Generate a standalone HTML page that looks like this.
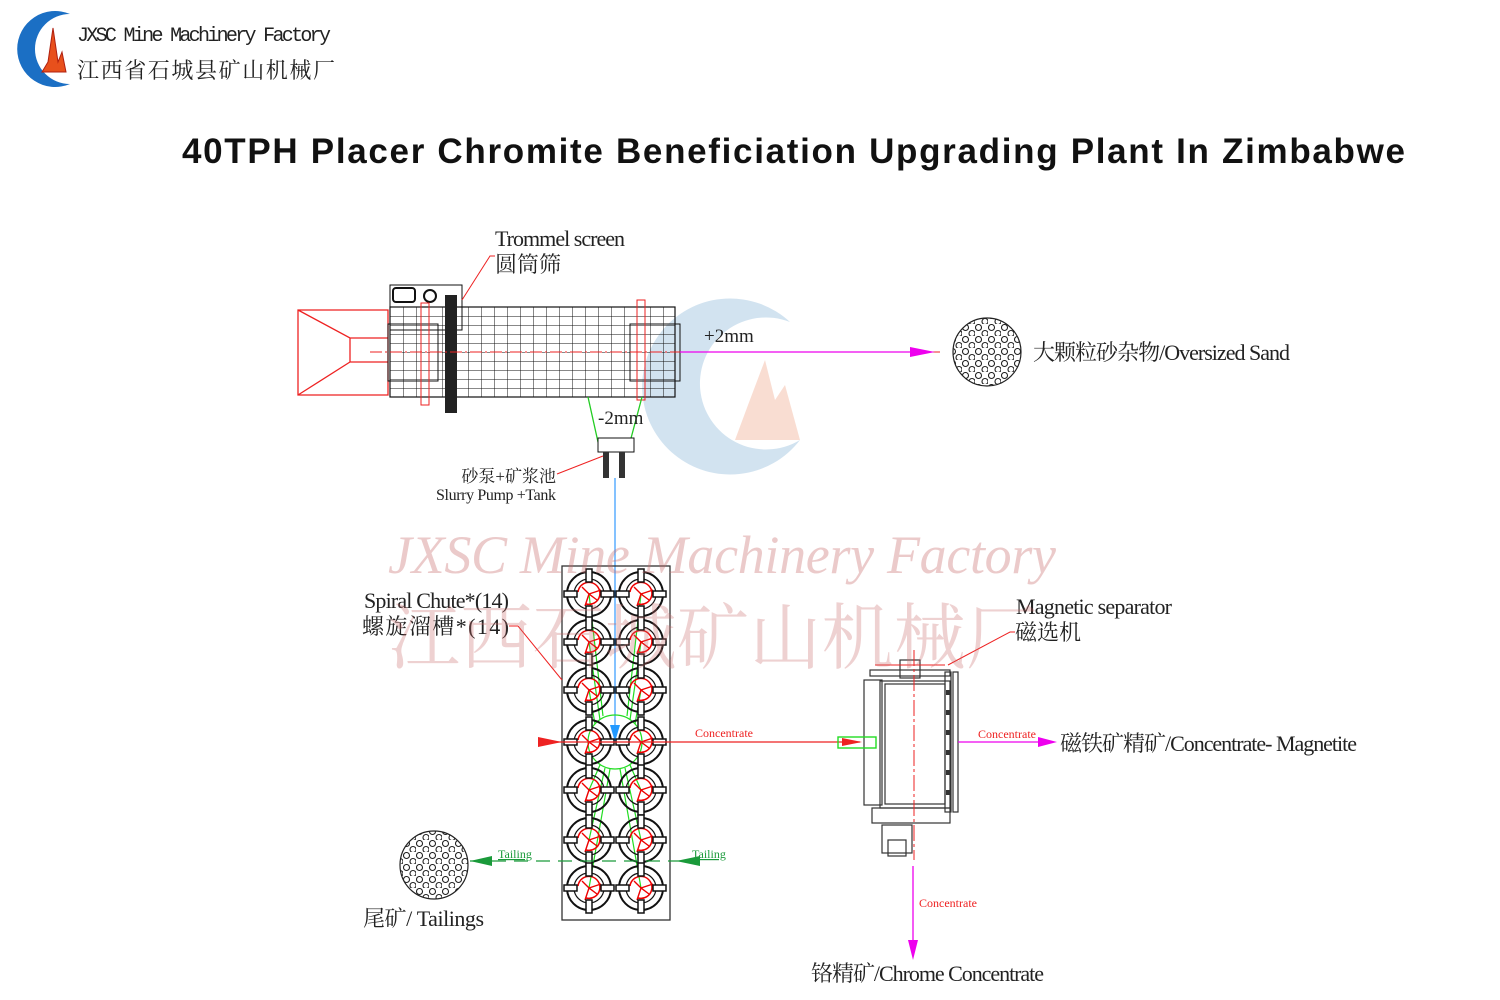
<!DOCTYPE html>
<html><head><meta charset="utf-8"><style>
html,body{margin:0;padding:0;background:#fff}
svg{display:block}
.s{font-family:"Liberation Serif","Noto Serif CJK SC",serif}
</style></head><body>
<svg width="1500" height="1000" viewBox="0 0 1500 1000" xmlns="http://www.w3.org/2000/svg">
<defs>
<pattern id="grid" x="390" y="307" width="13" height="9" patternUnits="userSpaceOnUse">
<path d="M0 0V9M0 0H13" stroke="#111" stroke-width="1" fill="none"/>
</pattern>
<pattern id="holes" x="0" y="0" width="13" height="12" patternUnits="userSpaceOnUse">
<circle cx="3.5" cy="3.5" r="3" fill="none" stroke="#222" stroke-width="1.1"/>
<circle cx="10" cy="9.5" r="3" fill="none" stroke="#222" stroke-width="1.1"/>
</pattern>
<g id="sp">
<circle r="22" fill="none" stroke="#111" stroke-width="2"/>
<circle r="15" fill="none" stroke="#111" stroke-width="1.2"/>
<path d="M-11 -2A11 11 0 1 1 -3 10" fill="none" stroke="#e00" stroke-width="1.5"/>
<path d="M-7 -7L0 0L8 6M0 0L-4 12M0 0L12 -4" stroke="#e00" stroke-width="1.4"/>
<rect x="-3" y="-25" width="6" height="13" fill="#fff" stroke="#111" stroke-width="1.5"/>
<rect x="-3" y="12" width="6" height="13" fill="#fff" stroke="#111" stroke-width="1.5"/>
<rect x="-25" y="-3" width="13" height="6" fill="#fff" stroke="#111" stroke-width="1.5"/>
<rect x="12" y="-3" width="13" height="6" fill="#fff" stroke="#111" stroke-width="1.5"/>
</g>
</defs>

<path d="M70 14 A38 38 0 1 0 70 84 A30 30 0 1 1 70 14Z" fill="#1b6fc4"/>
<path d="M42 72 L48 62 L53 28 L58 62 L62 52 L66 72Z" fill="#e8501c" stroke="#b02010"/>
<text x="77" y="41" font-family="'Liberation Mono',monospace" font-size="20" fill="#222" textLength="254">JXSC Mine Machinery Factory</text>
<text x="77" y="78" font-family="'Liberation Serif','Noto Serif CJK SC',serif" font-size="22" fill="#222" textLength="258">江西省石城县矿山机械厂</text>

<text x="182" y="163" font-family="'Liberation Sans',sans-serif" font-weight="bold" font-size="35" fill="#111" textLength="1223">40TPH Placer Chromite Beneficiation Upgrading Plant In Zimbabwe</text>

<g opacity="0.35">
<path d="M790 322 A88 88 0 1 0 800 440 A66 66 0 1 1 790 322Z" fill="#7fb0d6"/>
<path d="M735 440 L748 405 L765 360 L775 400 L785 385 L800 440Z" fill="#f0a080"/>
</g>

<path d="M298 310H388V395H298Z M298 310L350 338H388 M298 395L350 362H388 M350 338V362" fill="none" stroke="#e22" stroke-width="1.3"/>
<rect x="390" y="307" width="285" height="90" fill="url(#grid)" stroke="#111" stroke-width="1.2"/>
<rect x="388" y="324" width="50" height="57" fill="none" stroke="#111"/>
<rect x="630" y="324" width="50" height="57" fill="none" stroke="#111"/>
<rect x="390" y="285" width="72" height="45" fill="none" stroke="#111"/>
<rect x="393" y="288" width="22" height="14" rx="3" fill="#fff" stroke="#111" stroke-width="2"/>
<circle cx="430" cy="296" r="6" fill="#fff" stroke="#111" stroke-width="2"/>
<rect x="445" y="295" width="12" height="118" fill="#222"/>
<rect x="421" y="303" width="8" height="102" fill="none" stroke="#e22"/>
<rect x="637" y="300" width="8" height="100" fill="none" stroke="#e22"/>
<line x1="370" y1="352" x2="940" y2="352" stroke="#e22" stroke-dasharray="12 3 2 3"/>
<line x1="680" y1="352" x2="915" y2="352" stroke="#e0e" stroke-width="1.3"/>
<path d="M935 352L910 347V357Z" fill="#e0e"/>
<text x="704" y="342" class="s" font-size="19" fill="#222">+2mm</text>
<path d="M588 397L598 442H630L642 397" fill="none" stroke="#2c2" stroke-width="1.3"/>
<text x="598" y="424" class="s" font-size="19" fill="#222">-2mm</text>
<rect x="598" y="438" width="36" height="14" fill="#fff" stroke="#111"/>
<rect x="603" y="452" width="6" height="26" fill="#333"/><rect x="619" y="452" width="6" height="26" fill="#333"/>
<line x1="615" y1="478" x2="615" y2="735" stroke="#39f" stroke-width="1.2"/>
<path d="M615 742L610 725H620Z" fill="#29f"/>
<text x="495" y="246" class="s" font-size="22" fill="#222" textLength="130">Trommel screen</text>
<text x="495" y="272" class="s" font-size="22" fill="#222">圆筒筛</text>
<path d="M495 256H490L462 300" fill="none" stroke="#e22"/>
<text x="556" y="482" class="s" font-size="17" fill="#222" text-anchor="end">砂泵+矿浆池</text>
<text x="556" y="500" class="s" font-size="16" fill="#222" text-anchor="end" textLength="120">Slurry Pump +Tank</text>
<line x1="557" y1="474" x2="603" y2="456" stroke="#e22"/>

<circle cx="987" cy="352" r="34" fill="url(#holes)" stroke="#222" stroke-width="1.2"/>
<text x="1033" y="360" class="s" font-size="22" fill="#222" textLength="257">大颗粒砂杂物/Oversized Sand</text>

<rect x="562" y="566" width="108" height="354" fill="none" stroke="#333" stroke-width="1.3"/>
<g stroke="#2d2" stroke-width="1.2" fill="none">
<circle cx="615" cy="742" r="27"/>
<path d="M589 594L603 716M589 642L600 720M589 690L595 724M641 594L627 716M641 642L630 720M641 690L635 724M589 790L600 765M589 840L605 768M589 888L610 769M641 790L630 765M641 840L625 768M641 888L620 769"/>
</g>
<g>
<use href="#sp" x="589" y="594"/><use href="#sp" x="641" y="594"/>
<use href="#sp" x="589" y="642"/><use href="#sp" x="641" y="642"/>
<use href="#sp" x="589" y="690"/><use href="#sp" x="641" y="690"/>
<use href="#sp" x="589" y="742"/><use href="#sp" x="641" y="742"/>
<use href="#sp" x="589" y="790"/><use href="#sp" x="641" y="790"/>
<use href="#sp" x="589" y="840"/><use href="#sp" x="641" y="840"/>
<use href="#sp" x="589" y="888"/><use href="#sp" x="641" y="888"/>
</g>
<text x="364" y="608" class="s" font-size="22" fill="#222" textLength="145">Spiral Chute*(14)</text>
<text x="362" y="634" class="s" font-size="22" fill="#222" textLength="147">螺旋溜槽*(14)</text>
<path d="M509 626H518L562 680" fill="none" stroke="#e22"/>
<line x1="538" y1="742" x2="860" y2="742" stroke="#e22" stroke-width="1.2"/>
<path d="M562 742L538 737V747Z" fill="#e22"/>
<text x="695" y="737" class="s" font-size="12" fill="#e22">Concentrate</text>
<line x1="470" y1="861" x2="692" y2="861" stroke="#1a9a3a" stroke-width="1.3" stroke-dasharray="14 8"/>
<path d="M470 861L492 856V866Z" fill="#1a9a3a"/>
<path d="M676 861L700 856V866Z" fill="#1a9a3a"/>
<text x="498" y="858" class="s" font-size="12" fill="#1a9a3a" text-decoration="underline">Tailing</text>
<text x="692" y="858" class="s" font-size="12" fill="#1a9a3a" text-decoration="underline">Tailing</text>
<circle cx="434" cy="865" r="34" fill="url(#holes)" stroke="#222" stroke-width="1.2"/>
<text x="363" y="926" class="s" font-size="22" fill="#222" textLength="121">尾矿/ Tailings</text>

<g fill="none" stroke="#333" stroke-width="1.2">
<rect x="864" y="680" width="18" height="125"/>
<rect x="870" y="670" width="80" height="6"/>
<rect x="880" y="681" width="70" height="127"/>
<rect x="885" y="684" width="60" height="120"/>
<rect x="945" y="672" width="6" height="140"/>
<rect x="953" y="672" width="5" height="140"/>
<rect x="900" y="660" width="20" height="18"/>
<rect x="872" y="808" width="78" height="15"/>
<rect x="882" y="825" width="30" height="28"/>
<rect x="888" y="840" width="18" height="16"/>
</g>
<g fill="#333"><rect x="946" y="690" width="5" height="5"/><rect x="946" y="710" width="5" height="5"/><rect x="946" y="730" width="5" height="5"/><rect x="946" y="750" width="5" height="5"/><rect x="946" y="770" width="5" height="5"/><rect x="946" y="790" width="5" height="5"/></g>
<line x1="914" y1="650" x2="914" y2="860" stroke="#e22" stroke-dasharray="16 3 3 3"/>
<line x1="875" y1="665" x2="945" y2="665" stroke="#e22"/>
<rect x="838" y="737" width="38" height="11" fill="none" stroke="#2d2" stroke-width="1.4"/>
<path d="M862 742L842 738V746Z" fill="#e22"/>
<line x1="958" y1="742" x2="1040" y2="742" stroke="#e0e" stroke-width="1.3"/>
<path d="M1057 742L1038 737V747Z" fill="#e0e"/>
<text x="978" y="738" class="s" font-size="12" fill="#e22">Concentrate</text>
<text x="1060" y="751" class="s" font-size="22" fill="#222" textLength="297">磁铁矿精矿/Concentrate- Magnetite</text>
<text x="1016" y="614" class="s" font-size="22" fill="#222" textLength="156">Magnetic separator</text>
<text x="1015" y="640" class="s" font-size="22" fill="#222">磁选机</text>
<path d="M1015 632H1010L948 665" fill="none" stroke="#e22"/>
<line x1="913" y1="866" x2="913" y2="945" stroke="#e0e" stroke-width="1.3"/>
<path d="M913 960L908 940H918Z" fill="#e0e"/>
<text x="919" y="907" class="s" font-size="12" fill="#e22">Concentrate</text>
<text x="811" y="981" class="s" font-size="22" fill="#222" textLength="233">铬精矿/Chrome Concentrate</text>

<text x="388" y="573" font-family="'Liberation Serif',serif" font-style="italic" font-size="54" fill="#c86a6a" opacity="0.35" textLength="668">JXSC Mine Machinery Factory</text>
<text x="388" y="663" font-family="'Liberation Serif','Noto Serif CJK SC',serif" font-size="72" fill="#c86a6a" opacity="0.3" textLength="650">江西石城矿山机械厂</text>
</svg>
</body></html>
